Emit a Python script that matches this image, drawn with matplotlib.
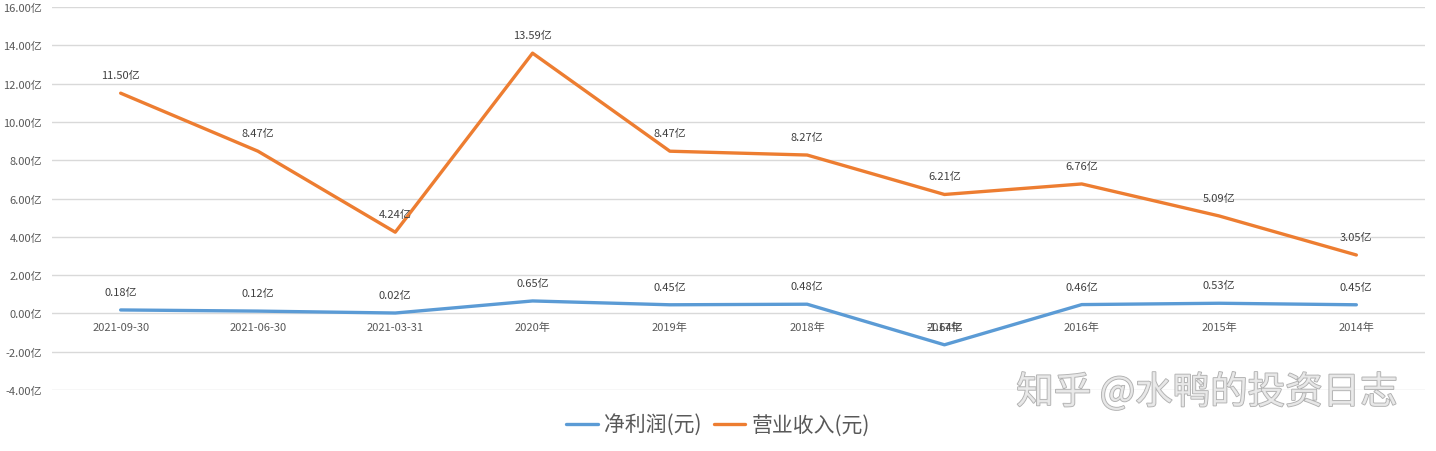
import matplotlib
matplotlib.use("Agg")
import matplotlib.pyplot as plt
import matplotlib.patheffects as pe

plt.rcParams['font.family'] = ['Noto Sans CJK SC', 'DejaVu Sans']

categories = ['2021-09-30', '2021-06-30', '2021-03-31', '2020年', '2019年',
              '2018年', '2017年', '2016年', '2015年', '2014年']
net_profit = [0.18, 0.12, 0.02, 0.65, 0.45, 0.48, -1.64, 0.46, 0.53, 0.45]
revenue = [11.50, 8.47, 4.24, 13.59, 8.47, 8.27, 6.21, 6.76, 5.09, 3.05]
yticks = [-4, -2, 0, 2, 4, 6, 8, 10, 12, 14, 16]

blue = '#5B9BD5'
orange = '#ED7D31'
grey = '#595959'

fig = plt.figure(figsize=(14.36, 4.52), dpi=100)
ax = fig.add_axes([52/1436, 61/452, (1425-52)/1436, (391-8)/452])
x = list(range(len(categories)))

ax.plot(x, net_profit, color=blue, lw=2.4, label='净利润(元)', solid_capstyle='round', zorder=3)
ax.plot(x, revenue, color=orange, lw=2.4, label='营业收入(元)', solid_capstyle='round', zorder=3)

for xs, ys in ((x, net_profit), (x, revenue)):
    for xi, yi in zip(xs, ys):
        ax.annotate(f'{yi:.2f}亿', (xi, yi), xytext=(0, 13), textcoords='offset points',
                    ha='center', va='center', fontsize=8, color='#404040', zorder=4)

# category labels sit at the 0 axis
for xi, c in zip(x, categories):
    ax.annotate(c, (xi, 0), xytext=(0, -10), textcoords='offset points',
                ha='center', va='center', fontsize=8, color=grey)

ax.set_xlim(-0.5, len(categories) - 0.5)
ax.set_ylim(-4, 16)
ax.set_yticks(yticks)
ax.set_yticklabels([f'{v:.2f}亿' for v in yticks], fontsize=8, color=grey)
ax.set_xticks([])
ax.tick_params(axis='y', length=0, pad=7)
ax.grid(axis='y', color='#D9D9D9', lw=1)
ax.set_axisbelow(True)
for s in ax.spines.values():
    s.set_visible(False)

fig.legend(loc='center', bbox_to_anchor=(0.5, 26/452), ncol=2, frameon=False,
           fontsize=15, handlelength=1.5, handletextpad=0.3, columnspacing=0.6,
           labelcolor=grey)

fig.text(1207/1436, 58/452, '知乎 @水鸭的投资日志', ha='center', va='center',
         fontsize=27, color='#EAEAEA', alpha=0.9,
         path_effects=[pe.withStroke(linewidth=1.2, foreground='#A6A6A6')])

fig.savefig('out.png', dpi=100)
